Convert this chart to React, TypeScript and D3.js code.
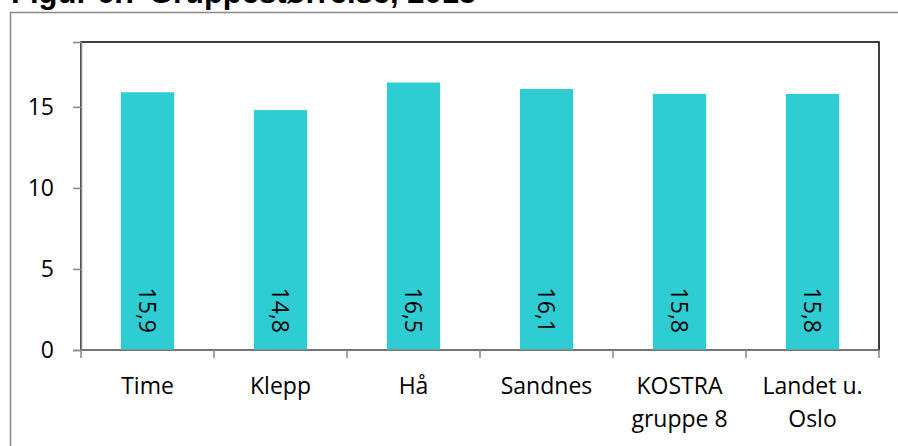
import React, { useEffect, useRef } from 'react';
import * as d3 from 'd3';

// Figure data
const categories = ['Time', 'Klepp', 'Hå', 'Sandnes', 'KOSTRA\ngruppe 8', 'Landet u.\nOslo'];
const values = [15.9, 14.8, 16.5, 16.1, 15.8, 15.8];
const yTicks = [0, 5, 10, 15];
const title = 'Figur 6.7 Gruppestørrelse, 2015';

const App = () => {
    const ref = useRef<SVGSVGElement>(null);

    useEffect(() => {
        const svg = d3.select(ref.current);
        svg.selectAll('*').remove();

        const width = 898;
        const height = 446;
        const plot = { left: 81, right: 879, top: 42, bottom: 350 };
        const labelFont = '"Open Sans", sans-serif';

        // title, mostly cut off at the top like in the source
        svg.append('text')
            .attr('x', 11)
            .attr('y', 3)
            .attr('font-family', '"Liberation Sans", Arial, sans-serif')
            .attr('font-weight', 'bold')
            .attr('font-size', 31)
            .attr('fill', '#000')
            .text(title);

        // outer chart border
        svg.append('rect')
            .attr('x', 10.5)
            .attr('y', 12.5)
            .attr('width', width)
            .attr('height', height)
            .attr('fill', 'none')
            .attr('stroke', '#888')
            .attr('stroke-width', 1.5);

        const x = d3.scaleBand()
            .domain(categories)
            .range([plot.left, plot.right])
            .paddingInner(0.6)
            .paddingOuter(0.3);

        const band = (plot.right - plot.left) / categories.length;

        const y = d3.scaleLinear()
            .domain([0, 19])
            .range([plot.bottom, plot.top]);

        // plot area frame
        svg.append('rect')
            .attr('x', plot.left)
            .attr('y', plot.top)
            .attr('width', plot.right - plot.left)
            .attr('height', plot.bottom - plot.top)
            .attr('fill', 'none')
            .attr('stroke', '#000')
            .attr('stroke-width', 1.5);

        // bars
        svg.selectAll('rect.bar')
            .data(values)
            .enter()
            .append('rect')
            .attr('class', 'bar')
            .attr('x', (d, i) => x(categories[i])!)
            .attr('y', d => y(d))
            .attr('width', x.bandwidth())
            .attr('height', d => y(0) - y(d))
            .attr('fill', '#2ECDD3');

        // value labels, rotated inside the bars
        svg.selectAll('text.value')
            .data(values)
            .enter()
            .append('text')
            .attr('class', 'value')
            .attr('transform', (d, i) => `translate(${x(categories[i])! + x.bandwidth() / 2},${plot.bottom - 17}) rotate(90)`)
            .attr('text-anchor', 'end')
            .attr('dy', '0.36em')
            .attr('font-family', labelFont)
            .attr('font-size', 23)
            .attr('fill', '#000')
            .text(d => d.toFixed(1).replace('.', ','));

        // y axis
        const yAxis = svg.append('g')
            .attr('transform', `translate(${plot.left},0)`)
            .call(d3.axisLeft(y).tickValues(yTicks).tickSize(8).tickPadding(19).tickFormat(d3.format('d')));
        yAxis.select('.domain').attr('stroke', '#888').attr('stroke-width', 1.5);
        yAxis.selectAll('.tick line').attr('stroke', '#888').attr('stroke-width', 1.5);
        yAxis.selectAll('.tick text')
            .attr('font-family', labelFont)
            .attr('font-size', 23)
            .attr('fill', '#000');

        // x axis line with ticks at band edges
        const edges = d3.range(categories.length + 1).map(i => plot.left + i * band);
        svg.append('line')
            .attr('x1', plot.left)
            .attr('x2', plot.right)
            .attr('y1', plot.bottom)
            .attr('y2', plot.bottom)
            .attr('stroke', '#888')
            .attr('stroke-width', 1.5);
        svg.selectAll('line.xtick')
            .data(edges)
            .enter()
            .append('line')
            .attr('class', 'xtick')
            .attr('x1', d => d)
            .attr('x2', d => d)
            .attr('y1', plot.bottom)
            .attr('y2', plot.bottom + 8)
            .attr('stroke', '#888')
            .attr('stroke-width', 1.5);

        // category labels, may wrap to two lines
        const catText = svg.selectAll('text.cat')
            .data(categories)
            .enter()
            .append('text')
            .attr('class', 'cat')
            .attr('x', d => x(d)! + x.bandwidth() / 2)
            .attr('y', 394)
            .attr('text-anchor', 'middle')
            .attr('font-family', labelFont)
            .attr('font-size', 23)
            .attr('fill', '#000');
        catText.selectAll('tspan')
            .data(d => d.split('\n').map(t => ({ t, cx: x(d)! + x.bandwidth() / 2 })))
            .enter()
            .append('tspan')
            .attr('x', d => d.cx)
            .attr('dy', (d, i) => (i === 0 ? 0 : 32.5))
            .text(d => d.t);
    }, []);

    return (
        <svg
            ref={ref}
            width={898}
            height={446}
            style={{ position: 'fixed', left: 0, top: 0, background: '#fff' }}
        />
    );
};

export default App;
